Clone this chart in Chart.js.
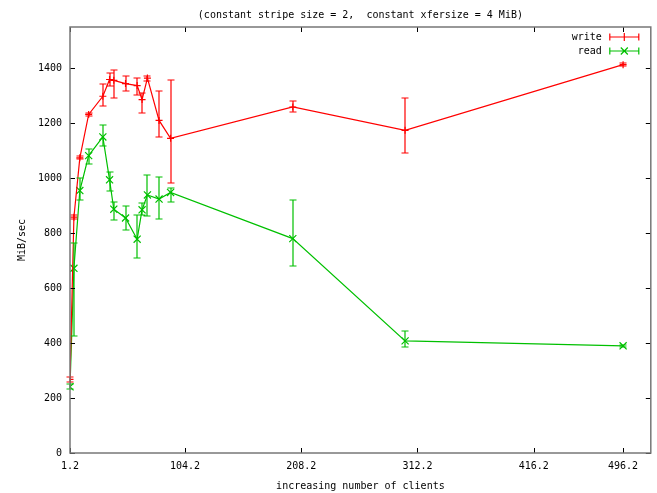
<!DOCTYPE html>
<html>
<head>
<meta charset="utf-8">
<script src="https://cdn.jsdelivr.net/npm/chart.js@4"></script>
<style>
  body { margin: 0; background: #fff; }
</style>
</head>
<body>
<canvas id="myChart" width="657" height="493"></canvas>
<script>
var clients   = [1.2, 4.7, 10, 17.9, 30.6, 36.6, 40.4, 50.9, 61.3, 65.7, 70.5, 80.9, 91.2, 200.6, 301.1, 496.2];

var writeData = [268, 858, 1074, 1232, 1298, 1359, 1356, 1344, 1337, 1286, 1364, 1210, 1145, 1259, 1174, 1413];
var writeLow  = [260, 850, 1068, 1226, 1261, 1334, 1292, 1316, 1304, 1237, 1354, 1148,  984, 1241, 1091, 1408];
var writeHigh = [276, 866, 1080, 1238, 1342, 1383, 1393, 1371, 1365, 1310, 1373, 1318, 1356, 1279, 1291, 1418];

var readData  = [241, 672,  955, 1082, 1150,  994,  887,  855,  778,  885,  939,  924,  948,  780,  408,  390];
var readLow   = [232, 425,  921, 1050, 1116,  952,  848,  812,  711,  865,  863,  851,  915,  681,  386,  386];
var readHigh  = [250, 765, 1000, 1106, 1195, 1024,  915,  899,  867,  909, 1010, 1004,  965,  919,  445,  394];

var xTicks = [1.2, 104.2, 208.2, 312.2, 416.2, 496.2];
var yTicks = [0, 200, 400, 600, 800, 1000, 1200, 1400];

var MONO = "'DejaVu Sans Mono', 'Liberation Mono', monospace";
var colors = ['#ff0000', '#00c000'];

function points(vals, lo, hi) {
    var out = [];
    for (var i = 0; i < clients.length; i++) {
        out.push({ x: clients[i], y: vals[i], lo: lo[i], hi: hi[i] });
    }
    return out;
}

// gnuplot style: yerrorlines, box border, inward tick marks, key in top right
var gnuplotBits = {
    id: 'gnuplotBits',
    afterDatasetsDraw: function (chart) {
        var ctx = chart.ctx, xs = chart.scales.x, ys = chart.scales.y;
        chart.data.datasets.forEach(function (ds, i) {
            ctx.save();
            ctx.strokeStyle = colors[i];
            ctx.lineWidth = 1.2;
            ctx.beginPath();
            ds.data.forEach(function (p) {
                var px = Math.round(xs.getPixelForValue(p.x));
                var lo = Math.round(ys.getPixelForValue(p.lo));
                var hi = Math.round(ys.getPixelForValue(p.hi));
                ctx.moveTo(px, lo); ctx.lineTo(px, hi);
                ctx.moveTo(px - 3.5, lo); ctx.lineTo(px + 3.5, lo);
                ctx.moveTo(px - 3.5, hi); ctx.lineTo(px + 3.5, hi);
            });
            ctx.stroke();
            ctx.restore();
        });
    },
    afterDraw: function (chart) {
        var ctx = chart.ctx, a = chart.chartArea, xs = chart.scales.x, ys = chart.scales.y;
        ctx.save();
        // tick marks, all four sides, pointing inward
        ctx.strokeStyle = '#000';
        ctx.lineWidth = 1;
        ctx.beginPath();
        xTicks.forEach(function (v) {
            var px = Math.round(xs.getPixelForValue(v)) + 0.5;
            ctx.moveTo(px, a.bottom); ctx.lineTo(px, a.bottom - 5);
            ctx.moveTo(px, a.top); ctx.lineTo(px, a.top + 5);
        });
        yTicks.forEach(function (v) {
            var py = Math.round(ys.getPixelForValue(v)) + 0.5;
            ctx.moveTo(a.left, py); ctx.lineTo(a.left + 5, py);
            ctx.moveTo(a.right, py); ctx.lineTo(a.right - 5, py);
        });
        ctx.stroke();
        // border
        ctx.strokeStyle = '#777';
        ctx.lineWidth = 1.5;
        ctx.strokeRect(a.left, a.top, a.right - a.left, a.bottom - a.top);

        // key
        ctx.font = '10px ' + MONO;
        ctx.textAlign = 'right';
        ctx.textBaseline = 'middle';
        ctx.lineWidth = 1.2;
        chart.data.datasets.forEach(function (ds, i) {
            var y = Math.round(a.top + 10 + i * 13.5), x0 = a.right - 41, x1 = a.right - 12, xm = (x0 + x1) / 2;
            ctx.fillStyle = '#000';
            ctx.fillText(ds.label, x0 - 8, y);
            ctx.strokeStyle = colors[i];
            ctx.beginPath();
            ctx.moveTo(x0, y); ctx.lineTo(x1, y);
            ctx.moveTo(x0, y - 3.5); ctx.lineTo(x0, y + 3.5);
            ctx.moveTo(x1, y - 3.5); ctx.lineTo(x1, y + 3.5);
            if (i === 0) {
                ctx.moveTo(xm, y - 4); ctx.lineTo(xm, y + 4);
            } else {
                ctx.moveTo(xm - 3.5, y - 3.5); ctx.lineTo(xm + 3.5, y + 3.5);
                ctx.moveTo(xm - 3.5, y + 3.5); ctx.lineTo(xm + 3.5, y - 3.5);
            }
            ctx.stroke();
        });
        ctx.restore();
    }
};

var ctx = document.getElementById('myChart').getContext('2d');
var myChart = new Chart(ctx, {
    type: 'line',
    data: {
        datasets: [{
            label: 'write',
            data: points(writeData, writeLow, writeHigh),
            borderColor: colors[0],
            backgroundColor: colors[0],
            borderWidth: 1.2,
            pointStyle: 'cross',
            pointRadius: 3.5,
            pointBorderWidth: 1.2,
            tension: 0
        }, {
            label: 'read',
            data: points(readData, readLow, readHigh),
            borderColor: colors[1],
            backgroundColor: colors[1],
            borderWidth: 1.2,
            pointStyle: 'crossRot',
            pointRadius: 5,
            pointBorderWidth: 1.2,
            tension: 0
        }]
    },
    options: {
        responsive: false,
        animation: false,
        layout: { padding: { left: 0, right: 4, top: 0, bottom: 0 } },
        plugins: {
            legend: { display: false },
            tooltip: { enabled: false },
            title: {
                display: true,
                fullSize: false,
                text: '(constant stripe size = 2,  constant xfersize = 4 MiB)',
                color: '#000',
                font: { family: MONO, size: 10, weight: 'normal', lineHeight: 1.2 },
                padding: { top: 9, bottom: 6 }
            }
        },
        scales: {
            x: {
                type: 'linear',
                min: 1.2,
                max: 521,
                grid: { display: false, drawTicks: false },
                border: { display: false },
                afterBuildTicks: function (scale) {
                    scale.ticks = xTicks.map(function (v) { return { value: v }; });
                },
                afterFit: function (scale) { scale.height = 40; },
                ticks: {
                    autoSkip: false,
                    maxRotation: 0,
                    padding: 7,
                    color: '#000',
                    font: { family: MONO, size: 10 },
                    callback: function (v) { return v.toFixed(1); }
                },
                title: {
                    display: true,
                    text: 'increasing number of clients',
                    color: '#000',
                    font: { family: MONO, size: 10, lineHeight: 1.2 },
                    padding: { top: 0, bottom: 1 }
                }
            },
            y: {
                min: 0,
                max: 1550,
                grid: { display: false, drawTicks: false },
                border: { display: false },
                afterBuildTicks: function (scale) {
                    scale.ticks = yTicks.map(function (v) { return { value: v }; });
                },
                afterFit: function (scale) { scale.width = 70; },
                ticks: {
                    padding: 8,
                    color: '#000',
                    font: { family: MONO, size: 10 },
                    callback: function (v) { return String(v); }
                },
                title: {
                    display: true,
                    text: 'MiB/sec',
                    color: '#000',
                    font: { family: MONO, size: 10, lineHeight: 1.2 },
                    padding: { top: 16, bottom: 0 }
                }
            }
        }
    },
    plugins: [gnuplotBits]
});
</script>
</body>
</html>
